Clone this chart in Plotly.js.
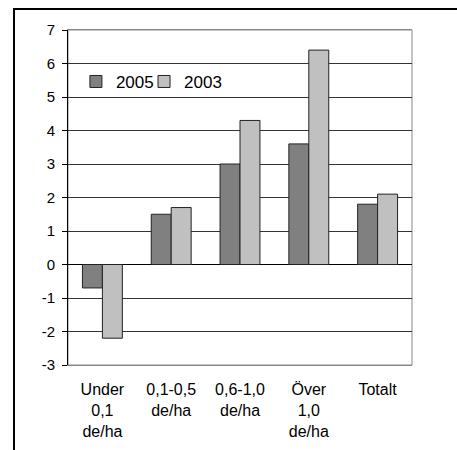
<!DOCTYPE html>
<html>
<head>
<meta charset="utf-8">
<script src="https://cdn.plot.ly/plotly-3.0.1.min.js"></script>
<style>
  html, body { margin: 0; padding: 0; background: #fff; overflow: hidden; }
  #chart { position: absolute; left: 0; top: 0; width: 457px; height: 450px; }
  #frame {
    position: absolute; left: 13px; top: 8px; width: 1000px; height: 1000px;
    border-left: 2px solid #000; border-top: 2px solid #000;
    pointer-events: none;
  }
</style>
</head>
<body>
<div id="chart"></div>
<div id="frame"></div>
<script>
// Change per density class (de/ha)
const categories = ["Under<br>0,1<br>de/ha", "0,1-0,5<br>de/ha", "0,6-1,0<br>de/ha", "Över<br>1,0<br>de/ha", "Totalt"];
const values2005 = [-0.7, 1.5, 3.0, 3.6, 1.8];
const values2003 = [-2.2, 1.7, 4.3, 6.4, 2.1];
const seriesNames = ["2005", "2003"];
const seriesColors = ["#808080", "#c0c0c0"];
const yTicks = [-3, -2, -1, 0, 1, 2, 3, 4, 5, 6, 7];
const yTickText = ["-3", "-2", "-1", "0", "1", "2", "3", "4", "5", "6", "7"];

const font = "Liberation Sans, Arial, sans-serif";
const catIndex = categories.map((_, i) => i);

// Boundaries between categories, for the tick marks on the zero line
const boundaries = catIndex.slice(1).map(i => i - 0.5);

// Each series gets its own legend box so the two entries sit close together
const legendIds = ["legend", "legend2"];
const legendX = [0.023, 0.221];

const traces = [values2005, values2003].map((vals, k) => ({
  type: "bar",
  name: seriesNames[k],
  x: catIndex,
  y: vals,
  legend: legendIds[k],
  marker: { color: seriesColors[k], line: { color: "#222", width: 1 } },
  hoverinfo: "skip"
}));

const legendStyle = x => ({
  orientation: "h",
  x: x, xanchor: "left",
  y: 0.845, yanchor: "middle",
  font: { family: font, size: 17, color: "#000" },
  itemwidth: 30,
  bgcolor: "rgba(0,0,0,0)"
});

const layout = {
  width: 457,
  height: 450,
  margin: { l: 68, r: 45, t: 30, b: 85 },
  paper_bgcolor: "#fff",
  plot_bgcolor: "#fff",
  font: { family: font, size: 15, color: "#000" },
  barmode: "group",
  bargap: 0.42,
  bargroupgap: 0,
  showlegend: true,
  legend: legendStyle(legendX[0]),
  legend2: legendStyle(legendX[1]),
  xaxis: {
    range: [-0.5, catIndex.length - 0.5],
    tickmode: "array",
    tickvals: catIndex,
    ticktext: categories,
    ticks: "",
    showgrid: false,
    zeroline: false,
    showline: true,
    linecolor: "#888",
    linewidth: 1,
    mirror: true,
    tickfont: { family: font, size: 16, color: "#000" },
    ticklabelstandoff: 10,
    fixedrange: true
  },
  xaxis2: {
    overlaying: "x",
    anchor: "free",
    position: 0.3,
    range: [-0.5, catIndex.length - 0.5],
    tickmode: "array",
    tickvals: boundaries,
    ticks: "outside",
    ticklen: 5,
    tickcolor: "#000",
    showticklabels: false,
    showgrid: false,
    zeroline: false,
    showline: true,
    linecolor: "#000",
    linewidth: 1,
    fixedrange: true
  },
  yaxis: {
    range: [-3, 7],
    tickmode: "array",
    tickvals: yTicks,
    ticktext: yTickText,
    ticks: "outside",
    ticklen: 5,
    tickcolor: "#000",
    showline: true,
    linecolor: "#000",
    linewidth: 1,
    showgrid: true,
    gridcolor: "#333",
    gridwidth: 1,
    zeroline: true,
    zerolinecolor: "#000",
    zerolinewidth: 1,
    tickfont: { family: font, size: 15, color: "#000" },
    ticklabelstandoff: 4,
    fixedrange: true
  },
  shapes: [{
    type: "rect", xref: "paper", yref: "paper",
    x0: 0, x1: 1, y0: 0, y1: 1,
    line: { color: "#888", width: 1 },
    layer: "below"
  }]
};

Plotly.newPlot("chart", traces, layout, { staticPlot: true, displayModeBar: false });
</script>
</body>
</html>
